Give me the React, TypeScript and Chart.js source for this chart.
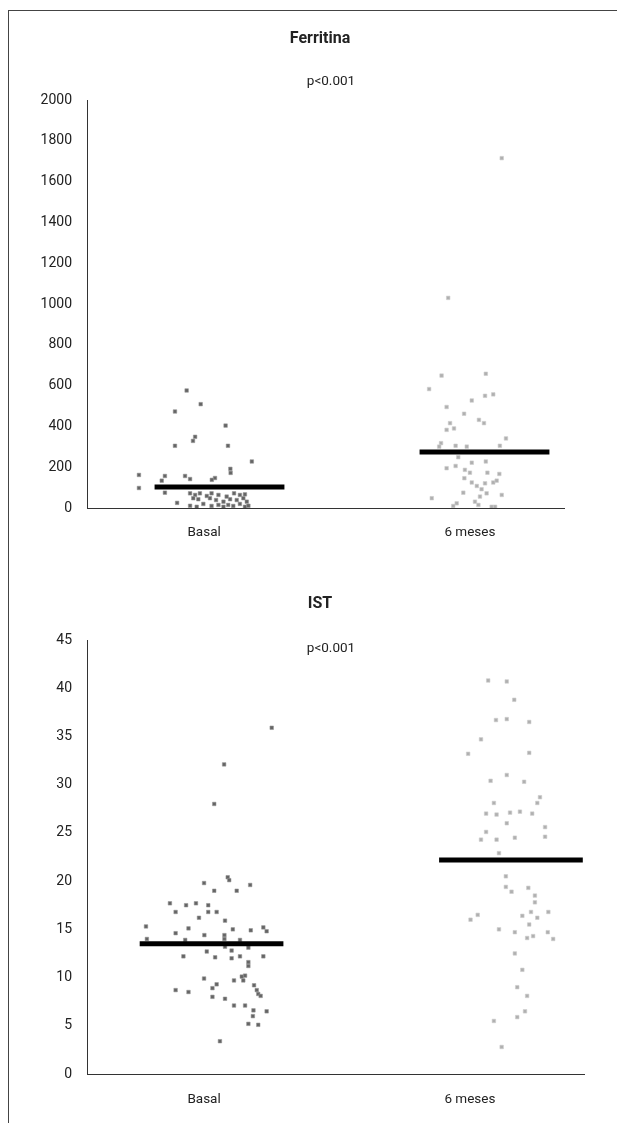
import React, { useEffect, useRef } from 'react';
import { Chart, registerables } from 'chart.js';

Chart.register(...registerables);

// ---------- data ----------
const categories = ['Basal', '6 meses'];
const pText = 'p<0.001';

const ferrTitle = 'Ferritina';
const ferrYMin = 0;
const ferrYMax = 2000;
const ferrYStep = 200;
const ferrMeans = [103, 275];

const ferrBasalX = [0.876, 0.929, 0.832, 1.023, 0.908, 0.9, 0.832, 1.032, 1.122, 1.041, 1.042, 0.696, 0.794, 0.782, 0.87, 0.889, 0.983, 0.971, 0.696, 0.794, 0.84,
  0.889, 0.908, 0.926, 0.952, 0.97, 0.996, 1.027, 1.055, 1.077, 1.096,
  0.901, 0.92, 0.964, 0.987, 1.015, 1.04, 1.065, 1.09, 1.103,
  0.889, 0.914, 0.939, 0.97, 0.996, 1.015, 1.033, 1.052, 1.077, 1.096, 1.109];
const ferrBasalY = [576, 509, 473, 404, 349, 329, 305, 305, 228, 192, 172, 162, 157, 134, 157, 142, 147, 138, 98, 75, 25,
  72, 64, 72, 59, 72, 64, 56, 72, 64, 67,
  48, 43, 48, 39, 31, 43, 39, 48, 31,
  11, 6, 20, 10, 15, 6, 15, 10, 20, 6, 11];

const ferrMesesX = [2.065, 1.863, 1.838, 2.005, 1.791, 1.952, 2.002, 2.033, 1.857, 1.923, 1.979, 1.998, 1.87, 1.885, 1.857, 2.081, 1.836, 1.829, 1.891, 1.933, 2.058,
  1.901, 1.952, 2.005, 1.857, 1.891, 1.926, 1.945, 2.011, 2.056, 1.924, 1.952, 2.002, 2.033, 2.046, 1.971, 1.989,
  1.801, 1.92, 2.008, 1.983, 2.065, 1.895, 1.882, 1.964, 1.977, 2.027, 2.04];
const ferrMesesY = [1715, 1030, 649, 658, 583, 527, 550, 557, 495, 462, 432, 416, 416, 390, 383, 341, 318, 301, 305, 301, 305,
  249, 222, 228, 195, 206, 187, 173, 173, 167, 146, 125, 121, 125, 134, 108, 92,
  48, 75, 72, 56, 64, 23, 10, 31, 15, 6, 6];

const istTitle = 'IST';
const istYMin = 0;
const istYMax = 45;
const istYStep = 5;
const istMeans = [13.5, 22.2];

const istBasalX = [1.201, 1.042, 1.009, 1.054, 1.059, 0.975, 1.129, 1.009, 1.084, 0.861, 0.915, 0.948, 0.989, 0.989, 0.88, 1.017, 0.958, 1.045,
  0.781, 0.923, 1.071, 1.131, 1.173, 1.184, 0.88, 0.976, 1.043, 1.043, 0.784, 0.912, 1.095, 1.045, 1.067, 1.123, 0.984, 1.012,
  0.906, 1.067, 1.095, 1.123, 1.123, 1.173, 1.101, 1.112, 1.106, 0.975, 1.075, 1.017, 1.003, 1.142, 1.151, 1.156, 1.164,
  0.88, 0.923, 1.003, 1.045, 1.075, 1.112, 1.14, 1.138, 1.184, 1.123, 1.156, 1.028];
const istBasalY = [35.9, 32.1, 28.0, 20.4, 20.1, 19.8, 19.6, 19.0, 19.0, 17.7, 17.5, 17.7, 17.5, 16.8, 16.8, 16.8, 16.2, 15.9,
  15.3, 15.1, 15.0, 14.9, 15.2, 14.8, 14.6, 14.4, 14.4, 14.0, 14.0, 13.9, 13.9, 13.2, 12.8, 13.1, 12.7, 12.1,
  12.2, 12.0, 12.2, 11.6, 11.2, 12.2, 10.1, 10.2, 9.7, 9.9, 9.7, 9.3, 8.9, 9.2, 8.7, 8.3, 8.1,
  8.7, 8.5, 8.0, 7.8, 7.1, 7.1, 6.6, 6.0, 6.5, 5.2, 5.1, 3.4];

const istMesesX = [1.924, 1.986, 2.011, 1.95, 1.986, 2.061, 1.9, 1.857, 2.061, 1.986, 1.932, 2.044, 2.097, 2.088, 1.943, 1.917, 1.952, 1.997, 2.03, 2.071,
  1.986, 1.917, 1.9, 1.952, 2.013, 2.114, 2.114, 1.96, 1.983, 1.983, 2.002, 2.058, 2.08, 2.08, 1.889, 1.865, 2.038, 2.067, 2.088, 2.125,
  2.061, 1.96, 2.013, 2.054, 2.074, 2.123, 2.141, 2.013, 2.038, 2.021, 2.054, 2.047, 2.021, 1.943, 1.969];
const istMesesY = [40.8, 40.7, 38.8, 36.7, 36.8, 36.5, 34.7, 33.2, 33.3, 31.0, 30.4, 30.3, 28.7, 28.1, 28.1, 27.0, 26.9, 27.1, 27.2, 27.0,
  26.0, 25.1, 24.3, 24.3, 24.5, 25.6, 24.6, 22.9, 20.5, 19.4, 18.9, 19.3, 18.5, 17.8, 16.5, 16.0, 16.4, 16.8, 16.2, 16.8,
  15.5, 15.0, 14.7, 14.1, 14.3, 14.7, 14.0, 12.5, 10.8, 9.0, 8.1, 6.5, 5.9, 5.5, 2.8];

// ---------- styling / layout ----------
const FONT = 'Roboto, "Liberation Sans", sans-serif';
const TEXT = '#222';
const BASAL_FILL = '#656565';
const BASAL_EDGE = 'rgba(150,150,150,0.55)';
const MESES_FILL = '#b0b0b0';
const MESES_EDGE = 'rgba(205,205,205,0.6)';

type PanelProps = {
  top: number;
  height: number;
  title: string;
  titleX: number;
  titleY: number;
  pX: number;
  pY: number;
  xMin: number;
  xMax: number;
  catPos: number[];
  yMin: number;
  yMax: number;
  yStep: number;
  means: number[];
  halfWidth: number;
  basalX: number[];
  basalY: number[];
  mesesX: number[];
  mesesY: number[];
  padding: { left: number; right: number; top: number; bottom: number };
  labelPad: number;
};

function Panel(p: PanelProps) {
  const ref = useRef<HTMLCanvasElement | null>(null);
  useEffect(() => {
    if (!ref.current) return;
    const pts = (xs: number[], ys: number[]) => xs.map((x, i) => ({ x, y: ys[i] }));
    const textPlugin = {
      id: 'panelText',
      afterDraw(chart: any) {
        const ctx = chart.ctx;
        ctx.save();
        ctx.fillStyle = TEXT;
        ctx.textAlign = 'center';
        ctx.textBaseline = 'middle';
        ctx.font = `bold 16px ${FONT}`;
        ctx.fillText(p.title, p.titleX, p.titleY);
        ctx.font = `13.5px ${FONT}`;
        ctx.fillText(pText, p.pX, p.pY);
        ctx.restore();
      },
    };
    const meanDs = (i: number) => ({
      data: [
        { x: i + 1 - p.halfWidth, y: p.means[i] },
        { x: i + 1 + p.halfWidth, y: p.means[i] },
      ],
      showLine: true,
      borderColor: '#000',
      borderWidth: 5,
      borderCapStyle: 'butt',
      pointRadius: 0,
      pointHoverRadius: 0,
    });
    const chart = new Chart(ref.current, {
      type: 'scatter',
      data: {
        datasets: [
          meanDs(0) as any,
          meanDs(1) as any,
          {
            data: pts(p.basalX, p.basalY),
            pointStyle: 'rect',
            pointRadius: 2.5,
            backgroundColor: BASAL_FILL,
            borderColor: BASAL_EDGE,
            borderWidth: 1,
          },
          {
            data: pts(p.mesesX, p.mesesY),
            pointStyle: 'rect',
            pointRadius: 2.5,
            backgroundColor: MESES_FILL,
            borderColor: MESES_EDGE,
            borderWidth: 1,
          },
        ],
      },
      options: {
        responsive: false,
        animation: false,
        events: [],
        layout: { padding: p.padding },
        plugins: {
          legend: { display: false },
          tooltip: { enabled: false },
          title: { display: false },
        },
        scales: {
          x: {
            type: 'linear',
            min: p.xMin,
            max: p.xMax,
            grid: { display: false },
            border: { display: true, color: '#333', width: 1 },
            ticks: {
              padding: p.labelPad,
              color: TEXT,
              font: { family: FONT, size: 13.5 },
              callback: (_v: any, i: number) => categories[i],
            },
            afterBuildTicks: (s: any) => {
              s.ticks = p.catPos.map((v) => ({ value: v }));
            },
            afterFit: (s: any) => {
              s.height = 40;
            },
          },
          y: {
            type: 'linear',
            min: p.yMin,
            max: p.yMax,
            grid: { display: false },
            border: { display: true, color: '#333', width: 1 },
            ticks: {
              stepSize: p.yStep,
              padding: 7,
              color: TEXT,
              font: { family: FONT, size: 14 },
              callback: (v: any) => String(v),
            },
            afterFit: (s: any) => {
              s.width = 70;
            },
          },
        },
      },
      plugins: [textPlugin],
    } as any);
    return () => chart.destroy();
  }, []);
  return (
    <canvas
      ref={ref}
      width={608}
      height={p.height}
      style={{ position: 'absolute', left: 0, top: p.top, width: 608, height: p.height, display: 'block' }}
    />
  );
}

export default function App() {
  return (
    <div
      style={{
        position: 'absolute',
        left: 8,
        top: 10,
        width: 608,
        height: 1112,
        borderTop: '1px solid #444',
        borderLeft: '1px solid #444',
        background: '#fff',
        overflow: 'hidden',
      }}
    >
      <Panel
        top={0}
        height={540}
        title={ferrTitle}
        titleX={311}
        titleY={28}
        pX={322}
        pY={71}
        xMin={0.5}
        xMax={2.3}
        catPos={[0.942, 1.945]}
        yMin={ferrYMin}
        yMax={ferrYMax}
        yStep={ferrYStep}
        means={ferrMeans}
        halfWidth={0.245}
        basalX={ferrBasalX}
        basalY={ferrBasalY}
        mesesX={ferrMesesX}
        mesesY={ferrMesesY}
        padding={{ left: 8, right: 53, top: 89, bottom: 3 }}
        labelPad={9}
      />
      <Panel
        top={549}
        height={563}
        title={istTitle}
        titleX={311}
        titleY={44}
        pX={322}
        pY={89}
        xMin={0.584}
        xMax={2.244}
        catPos={[0.975, 1.863]}
        yMin={istYMin}
        yMax={istYMax}
        yStep={istYStep}
        means={istMeans}
        halfWidth={0.24}
        basalX={istBasalX}
        basalY={istBasalY}
        mesesX={istMesesX}
        mesesY={istMesesY}
        padding={{ left: 8, right: 33, top: 80, bottom: 9 }}
        labelPad={10}
      />
    </div>
  );
}
